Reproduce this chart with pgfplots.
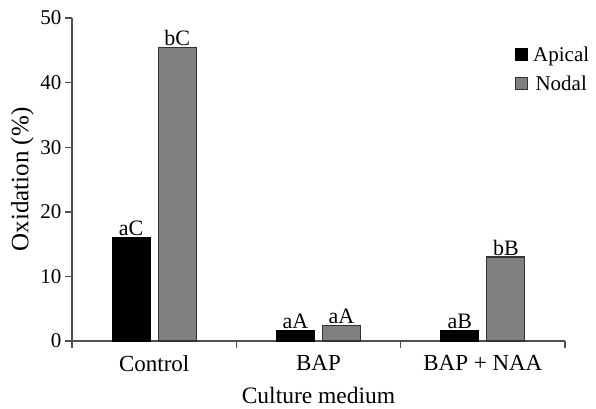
\documentclass[border=0pt]{standalone}
\usepackage{pgfplots}
\pgfplotsset{compat=1.18}
\usepackage{fontspec}
\setmainfont{Liberation Serif}
\definecolor{axgray}{RGB}{80,80,80}
\definecolor{bargray}{RGB}{128,128,128}
\begin{document}
\begin{tikzpicture}
\begin{axis}[
  name=ax,
  scale only axis,
  width=493pt, height=323pt,
  xmin=-0.5, xmax=2.5, ymin=0, ymax=50,
  axis x line=bottom, axis y line=left,
  axis line style={-, color=axgray, line width=1.6pt},
  ytick={0,10,20,30,40,50},
  xtick={0,1,2},
  xticklabels={Control,BAP,BAP + NAA},
  x tick style={draw=none},
  y tick style={color=axgray, line width=1.4pt},
  tick align=outside,
  major tick length=7pt,
  extra x ticks={-0.5,0.5,1.5,2.5},
  extra x tick labels={},
  extra x tick style={x tick style={draw=axgray, line width=1.4pt}, major tick length=7pt},
  /pgf/number format/assume math mode=true,
  yticklabel style={font=\fontsize{21}{24}\selectfont, xshift=0pt},
  xticklabel style={font=\fontsize{23}{26}\selectfont, yshift=-4pt},
  xlabel style={font=\fontsize{23.5}{26}\selectfont, yshift=5pt},
  ylabel style={font=\fontsize{25}{28}\selectfont, yshift=0pt},
  ylabel={Oxidation (\%)},
  xlabel={Culture medium},
  ybar, bar width=38pt,
  point meta=explicit symbolic,
  nodes near coords,
  nodes near coords style={font=\fontsize{22}{24}\selectfont, color=black, inner sep=1pt, yshift=0pt},
  legend style={draw=none, fill=none, at={(rel axis cs:0.8986,0.915)}, anchor=north west,
    font=\fontsize{21}{24}\selectfont, row sep=11pt, column sep=4pt, inner sep=0pt,
    nodes={inner sep=1pt}},
  legend image code/.code={\draw[#1, line width=1pt] (0pt,-6pt) rectangle (12pt,6pt);},
  clip=false,
]
\addplot+[bar shift=-23pt, fill=black, draw=black, line width=1pt] coordinates {(0,16) [aC] (1,1.6) [aA] (2,1.6) [aB]};
\addplot+[bar shift=23pt, fill=bargray, draw=black!80, line width=1.2pt] coordinates {(0,45.4) [bC] (1,2.4) [aA] (2,13) [bB]};
\legend{Apical,Nodal}
\end{axis}
\pgfresetboundingbox
\path[use as bounding box] (ax.south west) ++(-72pt,-67pt) rectangle ++(596pt,408pt);
\end{tikzpicture}
\end{document}
